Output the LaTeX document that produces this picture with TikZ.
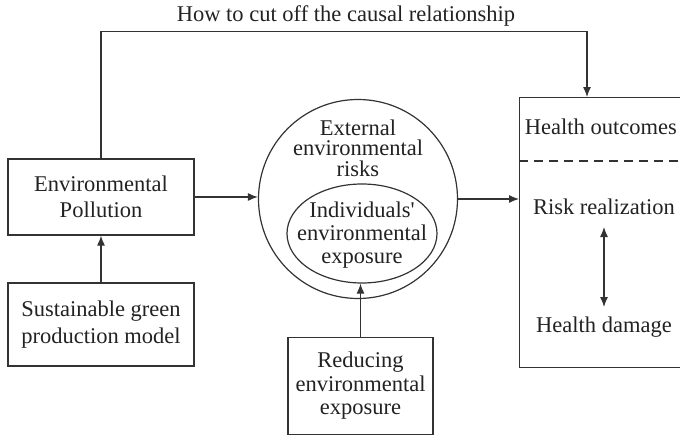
\documentclass[tikz,border=0pt]{standalone}
\usepackage{fontspec}
\setmainfont{Liberation Serif}[Ligatures=NoCommon]
\newfontfamily\tms{Liberation Serif}
\usetikzlibrary{arrows.meta,calc,shapes.geometric}
\definecolor{ln}{HTML}{333333}
\definecolor{tx}{HTML}{222222}
\begin{document}
\begin{tikzpicture}[x=1pt,y=-1pt,
  every node/.style={text=tx, font=\tms\fontsize{22.5}{23}\selectfont},
  box/.style={draw=ln, line width=1.2pt, align=center, inner sep=0pt},
  arr/.style={draw=ln, line width=1.2pt, -{Latex[length=10pt,width=8pt]}},
  dbl/.style={draw=ln, line width=1.2pt, {Latex[length=10pt,width=8pt]}-{Latex[length=10pt,width=8pt]}}]
\path[use as bounding box] (0,0) rectangle (680,436);
\clip (0,0) rectangle (680,436);

\node (title) at (346,16) {How to cut off the causal relationship};

\node[box, minimum width=186pt, minimum height=76pt,
  font=\tms\fontsize{22.5}{26}\selectfont] (ep) at (101,197) {Environmental\\Pollution};
\node[box, minimum width=186pt, minimum height=83pt,
  font=\tms\fontsize{22.5}{27}\selectfont] (sg) at (101,324.5) {Sustainable green\\production model};

\node[draw=ln, line width=1.2pt, circle, minimum size=199pt, inner sep=0pt] (circ) at (358,199) {};
\node[align=center, font=\tms\fontsize{22.5}{20.5}\selectfont] (ext) at (358,148) {External\\environmental\\risks};
\node[draw=ln, line width=1.2pt, ellipse, minimum width=150pt, minimum height=99pt, inner sep=0pt] (ell) at (362,233.5) {};
\node[align=center, font=\tms\fontsize{22.5}{23}\selectfont] (ind) at (362,235) {Individuals\textquotesingle\\environmental\\exposure};

\node[box, minimum width=145pt, minimum height=97pt,
  font=\tms\fontsize{22.5}{23.5}\selectfont] (red) at (360.5,386) {Reducing\\environmental\\exposure};

\node[draw=ln, line width=1.2pt, anchor=north west, minimum width=200pt, minimum height=270pt, inner sep=0pt] (hbox) at (519,97) {};
\draw[ln, line width=1.2pt, dash pattern=on 9pt off 6pt] (hbox.west |- 0,161) -- ++(170,0);
\node[anchor=east, inner sep=0pt] (ho) at (677,127) {Health outcomes};
\node (rr) at (604,207) {Risk realization};
\node (hd) at (604,327) {Health damage};

\coordinate (hin) at (587,97);
\draw[arr] (ep.north) -- ++(0,-127) -| (hin);
\draw[arr] (sg.north) -- (ep.south);
\draw[arr] (ep.east) -- (ep.east -| circ.west);
\draw[arr] (circ.east) -- (circ.east -| hbox.west);
\draw[arr] (red.north) -- (red.north |- ell.south);
\draw[dbl] ($(rr.center)+(0,20)$) -- ($(hd.center)+(0,-20)$);
\end{tikzpicture}
\end{document}
